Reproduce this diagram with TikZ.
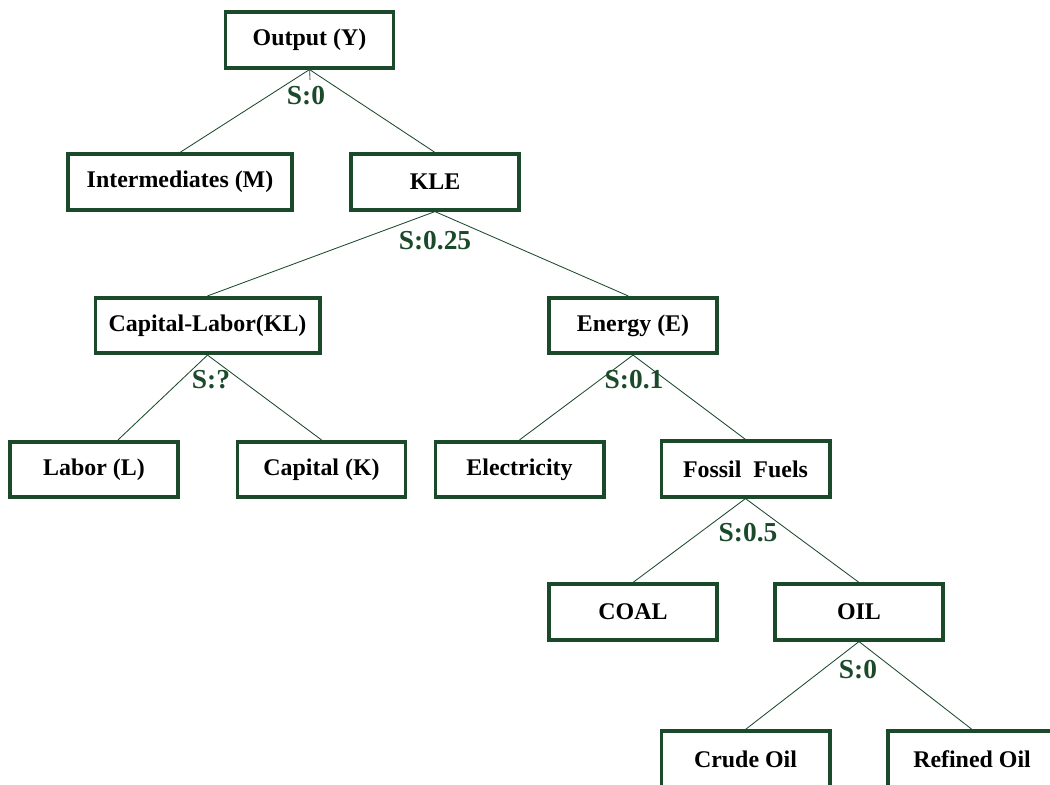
\documentclass[tikz,border=0pt]{standalone}
\usepackage{fontspec}
\setmainfont{Liberation Serif}
\usepackage{xcolor}
\usetikzlibrary{positioning}
\definecolor{nestgreen}{HTML}{1B4A2B}
\tikzset{
  nest/.style={rectangle, draw=nestgreen, line width=2.8pt, fill=white, align=center,
               font=\fontsize{17}{20}\selectfont\bfseries, inner sep=2pt,
               minimum width=4.2cm, minimum height=1.38cm},
  wide/.style={nest, minimum width=5.6cm},
  br/.style={draw=nestgreen, line width=0.6pt},
  elas/.style={font=\fontsize{19.5}{22}\selectfont\bfseries, text=nestgreen, inner sep=1pt},
}

\begin{document}
\begin{tikzpicture}[x=0.025cm, y=-0.025cm]
\useasboundingbox (0,0) rectangle (1050,784);
\clip (0,0) rectangle (1050,784);
\node[nest] (out) at (309.5,40) {Output (Y)};
\node[wide] (mid) at (180,182) {Intermediates (M)};
\node[nest] (kle) at (435,182) {KLE};
\node[wide] (kl) at (207.5,325.5) {Capital-Labor(KL)};
\node[nest] (en) at (633,325.5) {Energy (E)};
\node[nest] (lab) at (94,469.5) {Labor (L)};
\node[nest] (cap) at (321.5,469.5) {Capital (K)};
\node[nest] (ele) at (519.5,469.5) {Electricity};
\node[nest] (fos) at (745.5,469) {Fossil~~Fuels};
\node[nest] (coal) at (633,612) {COAL};
\node[nest] (oil) at (859,612) {OIL};
\node[nest] (crude) at (745.5,759) {Crude Oil};
\node[nest] (ref) at (972,759) {Refined Oil};
\coordinate (tick) at (310,80);
\draw[gray, line width=0.8pt] (out.south) -- (tick);
\draw[br] (out.south) -- (mid.north);
\draw[br] (out.south) -- (kle.north);
\draw[br] (kle.south) -- (kl.north);
\draw[br] (kle.south) -- ([xshift=-0.12cm]en.north);
\draw[br] (kl.south) -- ([xshift=0.6cm]lab.north);
\draw[br] (kl.south) -- (cap.north);
\draw[br] (en.south) -- (ele.north);
\draw[br] (en.south) -- (fos.north);
\draw[br] (fos.south) -- (coal.north);
\draw[br] (fos.south) -- (oil.north);
\draw[br] (oil.south) -- (crude.north);
\draw[br] (oil.south) -- (ref.north);
\node[elas] (s-out) at (306,96) {S:0};
\node[elas] (s-kle) at (435,241) {S:0.25};
\node[elas] (s-kl) at (211,380) {S:?};
\node[elas] (s-en) at (634,380) {S:0.1};
\node[elas] (s-fos) at (748,533) {S:0.5};
\node[elas] (s-oil) at (858,670) {S:0};
\end{tikzpicture}
\end{document}
